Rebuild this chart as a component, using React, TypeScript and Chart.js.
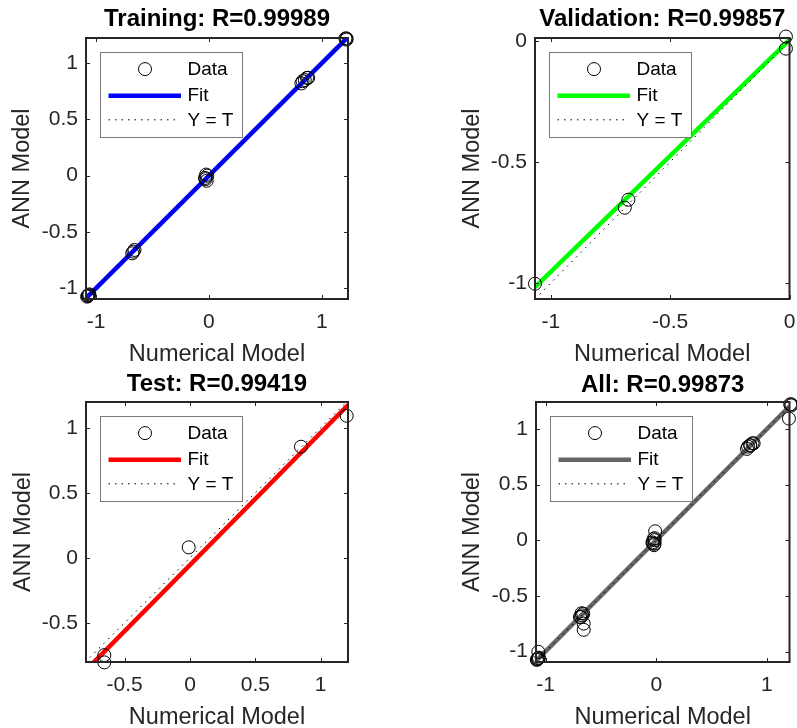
import React, { useEffect, useRef } from 'react';
import { Chart, registerables } from 'chart.js';

Chart.register(...registerables);

const FONT = '"Liberation Sans", Arial, Helvetica, sans-serif';

// ---------- data (targets T = Numerical Model, outputs Y = ANN Model) ----------
const trainT = [-1.075, -1.065, -1.07, -1.06, -1.08, -0.68, -0.66, -0.67, -0.035, -0.025, -0.02, -0.03, -0.015, 0.82, 0.83, 0.85, 0.87, 0.88, 1.21, 1.22, 1.22];
const trainY = [-1.07, -1.06, -1.065, -1.055, -1.075, -0.69, -0.66, -0.675, -0.02, 0.01, -0.045, -0.03, 0.0, 0.82, 0.84, 0.85, 0.87, 0.87, 1.22, 1.22, 1.21];

const valT = [-1.066, -0.69, -0.675, -0.015, -0.015];
const valY = [-1.003, -0.689, -0.656, 0.018, -0.032];

const testT = [-0.656, -0.656, -0.01, 0.849, 1.199];
const testY = [-0.749, -0.805, 0.08, 0.854, 1.092];

const allT = [...trainT, ...valT, ...testT];
const allY = [...trainY, ...valY, ...testY];

// fit lines: [slope, intercept]
const trainFit = [0.9997, 0.0003];
const valFit = [0.958, 0.004];
const testFit = [1.0175, -0.055];
const allFit = [0.998, 0.0];

// axis limits
const trainXLim = [-1.09, 1.233];
const trainYLim = [-1.096, 1.224];
const valXLim = [-1.066, 0.0];
const valYLim = [-1.066, 0.012];
const testXLim = [-0.796, 1.209];
const testYLim = [-0.802, 1.198];
const allXLim = [-1.087, 1.204];
const allYLim = [-1.094, 1.241];

// tick values
const trainXTicks = [-1, 0, 1];
const trainYTicks = [-1, -0.5, 0, 0.5, 1];
const valXTicks = [-1, -0.5, 0];
const valYTicks = [-1, -0.5, 0];
const testXTicks = [-0.5, 0, 0.5, 1];
const testYTicks = [-0.5, 0, 0.5, 1];
const allXTicks = [-1, 0, 1];
const allYTicks = [-1, -0.5, 0, 0.5, 1];

const titles = ['Training: R=0.99989', 'Validation: R=0.99857', 'Test: R=0.99419', 'All: R=0.99873'];
const fitColors = ['#0000ff', '#00ff00', '#ff0000', '#666666'];
const legendLabels = ['Data', 'Fit', 'Y = T'];
const xAxisLabel = 'Numerical Model';
const yAxisLabel = 'ANN Model';

// ---------- layout (page coordinates) ----------
type PanelCfg = {
  rect: number[]; // canvas left, top, width, height
  area: number[]; // chart area L, T, R, B
  titleY: number;
  xTitleY: number;
  yTitleX: number;
  title: string;
  color: string;
  T: number[];
  Y: number[];
  fit: number[];
  xLim: number[];
  yLim: number[];
  xTicks: number[];
  yTicks: number[];
};

const panels: PanelCfg[] = [
  {
    rect: [0, 0, 400, 370], area: [86, 38, 348, 299], titleY: 19.3, xTitleY: 355, yTitleX: 22.7,
    title: titles[0], color: fitColors[0], T: trainT, Y: trainY, fit: trainFit,
    xLim: trainXLim, yLim: trainYLim, xTicks: trainXTicks, yTicks: trainYTicks,
  },
  {
    rect: [449, 0, 348, 370], area: [535, 38, 793, 299], titleY: 19.8, xTitleY: 355, yTitleX: 472.7,
    title: titles[1], color: fitColors[1], T: valT, Y: valY, fit: valFit,
    xLim: valXLim, yLim: valYLim, xTicks: valXTicks, yTicks: valYTicks,
  },
  {
    rect: [0, 364, 400, 364], area: [86, 402, 348, 662], titleY: 384.3, xTitleY: 717.5, yTitleX: 23.3,
    title: titles[2], color: fitColors[2], T: testT, Y: testY, fit: testFit,
    xLim: testXLim, yLim: testYLim, xTicks: testXTicks, yTicks: testYTicks,
  },
  {
    rect: [450, 364, 347, 364], area: [536, 402, 793, 662], titleY: 385, xTitleY: 717.5, yTitleX: 472.7,
    title: titles[3], color: fitColors[3], T: allT, Y: allY, fit: allFit,
    xLim: allXLim, yLim: allYLim, xTicks: allXTicks, yTicks: allYTicks,
  },
];

const fmt = (v: number) => String(Math.round(v * 100) / 100);

const framePlugin = {
  id: 'matlabFrame',
  afterDraw(chart: any, _args: any, opts: any) {
    const { ctx, chartArea: a, scales } = chart;
    const xs = scales.x;
    const ys = scales.y;
    ctx.save();
    // inward ticks on all four sides
    ctx.strokeStyle = '#262626';
    ctx.lineWidth = 1;
    const tl = 4;
    ctx.beginPath();
    for (const t of xs.ticks) {
      const px = Math.round(xs.getPixelForValue(t.value)) + 0.5;
      ctx.moveTo(px, a.bottom);
      ctx.lineTo(px, a.bottom - tl);
      ctx.moveTo(px, a.top);
      ctx.lineTo(px, a.top + tl);
    }
    for (const t of ys.ticks) {
      const py = Math.round(ys.getPixelForValue(t.value)) + 0.5;
      ctx.moveTo(a.left, py);
      ctx.lineTo(a.left + tl, py);
      ctx.moveTo(a.right, py);
      ctx.lineTo(a.right - tl, py);
    }
    ctx.stroke();
    // box
    ctx.lineWidth = 2;
    ctx.strokeRect(a.left, a.top, a.right - a.left, a.bottom - a.top);

    // legend
    const bx = Math.round(a.left + 14) + 0.5;
    const by = Math.round(a.top + 13.5) + 0.5;
    const bw = 142;
    const bh = 85;
    ctx.fillStyle = '#ffffff';
    ctx.fillRect(bx, by, bw, bh);
    ctx.strokeStyle = '#7a7a7a';
    ctx.lineWidth = 1;
    ctx.strokeRect(bx, by, bw, bh);

    ctx.strokeStyle = '#000000';
    ctx.beginPath();
    ctx.arc(bx + 44.5, by + 16.6, 6.5, 0, Math.PI * 2);
    ctx.stroke();

    ctx.strokeStyle = opts.color;
    ctx.lineWidth = 4.5;
    ctx.beginPath();
    ctx.moveTo(bx + 8, by + 43.3);
    ctx.lineTo(bx + 80.5, by + 43.3);
    ctx.stroke();

    ctx.strokeStyle = '#000000';
    ctx.lineWidth = 1;
    ctx.setLineDash([1.5, 5]);
    ctx.beginPath();
    ctx.moveTo(bx + 8, by + 67.3);
    ctx.lineTo(bx + 75, by + 67.3);
    ctx.stroke();
    ctx.setLineDash([]);

    ctx.font = `19px ${FONT}`;
    ctx.fillStyle = '#000000';
    ctx.textAlign = 'left';
    ctx.textBaseline = 'middle';
    ctx.fillText(legendLabels[0], bx + 87, by + 17.5);
    ctx.fillText(legendLabels[1], bx + 87, by + 43.5);
    ctx.fillText(legendLabels[2], bx + 87, by + 68.5);
    ctx.restore();
  },
};

function makeChart(canvas: HTMLCanvasElement, p: PanelCfg) {
  const [cl, ct, cw, ch] = p.rect;
  const [L, T, R, B] = p.area;
  const yW = L - cl;
  const padRight = cl + cw - R;
  const xH = ct + ch - B;
  const titleSize = 24;
  const titleTop = p.titleY - ct - titleSize / 2;
  const titleBottom = T - ct - titleTop - titleSize;
  const xTitlePad = Math.max(0, ct + ch - p.xTitleY - 9.4);
  const yTitlePad = p.yTitleX - cl - 11.75;

  const pts = p.T.map((t, i) => ({ x: t, y: p.Y[i] }));
  const lo = Math.min(p.xLim[0], p.yLim[0]);
  const hi = Math.max(p.xLim[1], p.yLim[1]);
  const fitPts = [p.xLim[0], p.xLim[1]].map((x) => ({ x, y: p.fit[0] * x + p.fit[1] }));
  const idPts = [lo, hi].map((v) => ({ x: v, y: v }));

  const tickFont = { family: FONT, size: 21, lineHeight: 1.2 };

  return new Chart(canvas, {
    type: 'scatter',
    data: {
      datasets: [
        {
          label: legendLabels[0],
          data: pts,
          showLine: false,
          pointRadius: 6.5,
          pointHoverRadius: 6.5,
          pointBorderColor: '#000000',
          pointBackgroundColor: 'rgba(0,0,0,0)',
          pointBorderWidth: 1,
          clip: false,
          order: 0,
        } as any,
        {
          label: legendLabels[2],
          data: idPts,
          showLine: true,
          pointRadius: 0,
          borderColor: '#000000',
          borderWidth: 1,
          borderDash: [1.5, 5],
          clip: 0,
          order: 1,
        } as any,
        {
          label: legendLabels[1],
          data: fitPts,
          showLine: true,
          pointRadius: 0,
          borderColor: p.color,
          borderWidth: 4.5,
          clip: 0,
          order: 2,
        } as any,
      ],
    },
    options: {
      animation: false,
      responsive: false,
      maintainAspectRatio: false,
      devicePixelRatio: 1,
      events: [],
      layout: { padding: { left: 0, top: 0, right: padRight, bottom: 0 } },
      plugins: {
        legend: { display: false },
        tooltip: { enabled: false },
        title: {
          display: true,
          text: p.title,
          color: '#000000',
          fullSize: false,
          font: { family: FONT, size: titleSize, weight: 'bold', lineHeight: 1 },
          padding: { top: titleTop, bottom: titleBottom },
        },
        matlabFrame: { color: p.color },
      } as any,
      scales: {
        x: {
          type: 'linear',
          position: 'bottom',
          min: p.xLim[0],
          max: p.xLim[1],
          grid: { display: false, drawTicks: false },
          border: { display: false },
          afterBuildTicks: (s: any) => {
            s.ticks = p.xTicks.map((v) => ({ value: v }));
          },
          afterFit: (s: any) => {
            s.height = xH;
            s.paddingLeft = 0;
            s.paddingRight = 0;
          },
          ticks: {
            font: tickFont,
            color: '#262626',
            padding: 11,
            maxRotation: 0,
            minRotation: 0,
            autoSkip: false,
            callback: (v: any) => fmt(Number(v)),
          },
          title: {
            display: true,
            text: xAxisLabel,
            color: '#262626',
            font: { family: FONT, size: 23.5, lineHeight: 0.8 },
            padding: { top: 0, bottom: xTitlePad },
          },
        },
        y: {
          type: 'linear',
          position: 'left',
          min: p.yLim[0],
          max: p.yLim[1],
          grid: { display: false, drawTicks: false },
          border: { display: false },
          afterBuildTicks: (s: any) => {
            s.ticks = p.yTicks.map((v) => ({ value: v }));
          },
          afterFit: (s: any) => {
            s.width = yW;
            s.paddingTop = 0;
            s.paddingBottom = 0;
          },
          ticks: {
            font: tickFont,
            color: '#262626',
            padding: 8,
            autoSkip: false,
            callback: (v: any) => fmt(Number(v)),
          },
          title: {
            display: true,
            text: yAxisLabel,
            color: '#262626',
            font: { family: FONT, size: 23.5, lineHeight: 1 },
            padding: { top: yTitlePad, bottom: 0 },
          },
        },
      },
    } as any,
    plugins: [framePlugin as any],
  });
}

function Panel({ p }: { p: PanelCfg }) {
  const ref = useRef<HTMLCanvasElement | null>(null);
  useEffect(() => {
    if (!ref.current) return;
    const c = makeChart(ref.current, p);
    return () => c.destroy();
  }, [p]);
  const [l, t, w, h] = p.rect;
  return (
    <canvas
      ref={ref}
      width={w}
      height={h}
      style={{ position: 'absolute', left: l, top: t, width: w, height: h, display: 'block' }}
    />
  );
}

export default function App() {
  return (
    <div
      style={{
        position: 'absolute',
        left: 0,
        top: 0,
        width: 797,
        height: 728,
        background: '#ffffff',
        overflow: 'hidden',
      }}
    >
      {panels.map((p, i) => (
        <Panel key={i} p={p} />
      ))}
    </div>
  );
}
